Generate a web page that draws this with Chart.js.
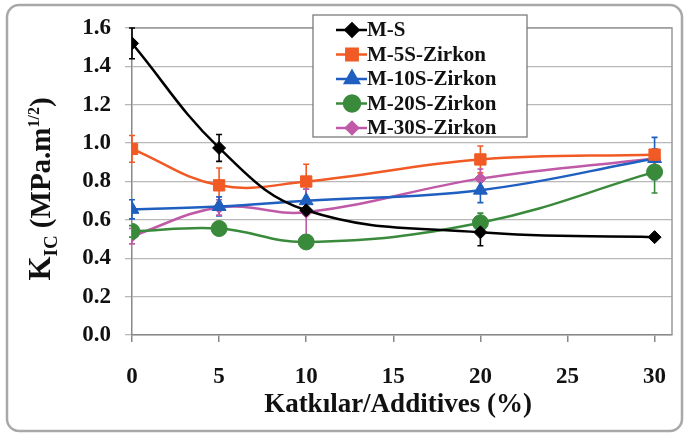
<!DOCTYPE html>
<html>
<head>
<meta charset="utf-8">
<script src="https://cdn.jsdelivr.net/npm/chart.js@4.4.1/dist/chart.umd.min.js"></script>
<style>
html, body { margin: 0; padding: 0; background: #fff; }
#wrap { width: 688px; height: 435px; }
</style>
</head>
<body>
<div id="wrap"><canvas id="grafico" width="688" height="435"></canvas></div>
<script>
// ----- dados -----
const katkilar = [0, 5, 10, 20, 30];
const xTicks = [0, 5, 10, 15, 20, 25, 30];
const yTicks = [0.0, 0.2, 0.4, 0.6, 0.8, 1.0, 1.2, 1.4, 1.6];

const nomes = ['M-S', 'M-5S-Zirkon', 'M-10S-Zirkon', 'M-20S-Zirkon', 'M-30S-Zirkon'];

const valMS   = [1.52, 0.975, 0.65, 0.535, 0.51];
const errMS   = [0.08, 0.07, 0.0, 0.07, 0.015];
const val5S   = [0.97, 0.78, 0.80, 0.915, 0.94];
const err5S   = [0.07, 0.09, 0.09, 0.07, 0.03];
const val10S  = [0.655, 0.67, 0.70, 0.755, 0.92];
const err10S  = [0.05, 0.05, 0.06, 0.065, 0.11];
const val20S  = [0.54, 0.555, 0.485, 0.585, 0.85];
const err20S  = [0.03, 0.02, 0.02, 0.05, 0.11];
const val30S  = [0.515, 0.665, 0.64, 0.815, 0.92];
const err30S  = [0.04, 0.04, 0.12, 0.05, 0.04];

const cores = ['#000000', '#f15a24', '#1f5fbf', '#3a8a3c', '#c05aa8'];
const marcadores = ['rectRot', 'rect', 'triangle', 'circle', 'rectRot'];
const raios = [6.5, 8, 8, 8, 6];

const valores = [valMS, val5S, val10S, val20S, val30S];
const erros = [errMS, err5S, err10S, err20S, err30S];

const fonte = '"Liberation Serif", "Times New Roman", serif';

// ----- datasets -----
const datasets = nomes.map((nome, i) => ({
  label: nome,
  data: katkilar.map((x, j) => ({ x: x, y: valores[i][j] })),
  borderColor: cores[i],
  backgroundColor: cores[i],
  borderWidth: 2.5,
  pointStyle: marcadores[i],
  pointRadius: raios[i],
  pointBorderWidth: 1,
  tension: 0.4,
  erro: erros[i]
}));

// fundo e moldura arredondada
const moldura = {
  id: 'moldura',
  beforeDraw(chart) {
    const ctx = chart.ctx;
    ctx.save();
    ctx.fillStyle = '#ffffff';
    ctx.fillRect(0, 0, chart.width, chart.height);
    ctx.strokeStyle = '#a8a8a8';
    ctx.lineWidth = 2.5;
    ctx.beginPath();
    ctx.roundRect(7, 5, 675, 426, 12);
    ctx.stroke();
    ctx.restore();
  }
};

// borda da área do gráfico + barras de erro
const barrasErro = {
  id: 'barrasErro',
  beforeDatasetsDraw(chart) {
    const ctx = chart.ctx;
    const a = chart.chartArea;
    ctx.save();
    ctx.strokeStyle = '#9a9a9a';
    ctx.lineWidth = 1.5;
    ctx.beginPath();
    ctx.moveTo(a.left, a.top);
    ctx.lineTo(a.right, a.top);
    ctx.lineTo(a.right, a.bottom);
    ctx.stroke();

    const xs = chart.scales.x, ys = chart.scales.y;
    chart.data.datasets.forEach(ds => {
      ctx.strokeStyle = ds.borderColor;
      ctx.lineWidth = 1.6;
      ds.data.forEach((p, j) => {
        const e = ds.erro[j];
        if (!e) return;
        const px = xs.getPixelForValue(p.x);
        const y1 = ys.getPixelForValue(p.y + e);
        const y2 = ys.getPixelForValue(p.y - e);
        ctx.beginPath();
        ctx.moveTo(px, y1); ctx.lineTo(px, y2);
        ctx.moveTo(px - 3, y1); ctx.lineTo(px + 3, y1);
        ctx.moveTo(px - 3, y2); ctx.lineTo(px + 3, y2);
        ctx.stroke();
      });
    });
    ctx.restore();
  }
};

// títulos dos eixos e legenda dentro do gráfico
const titulosLegenda = {
  id: 'titulosLegenda',
  afterDraw(chart) {
    const ctx = chart.ctx;
    ctx.save();
    ctx.fillStyle = '#111';

    // título eixo X
    ctx.font = 'bold 27px ' + fonte;
    ctx.textAlign = 'center';
    ctx.textBaseline = 'middle';
    ctx.fillText('Katkılar/Additives (%)', 398, 405);

    // título eixo Y: K_IC (MPa.m^1/2)
    ctx.translate(50, 189);
    ctx.rotate(-Math.PI / 2);
    const partes = [
      { t: 'K', f: 'bold 31px ', dy: 0 },
      { t: 'IC', f: 'bold 19px ', dy: 7 },
      { t: ' (MPa.m', f: 'bold 29px ', dy: 0 },
      { t: '1/2', f: 'bold 16px ', dy: -11 },
      { t: ')', f: 'bold 29px ', dy: 0 }
    ];
    let total = 0;
    partes.forEach(p => { ctx.font = p.f + fonte; total += ctx.measureText(p.t).width; });
    let x = -total / 2;
    ctx.textAlign = 'left';
    ctx.textBaseline = 'alphabetic';
    partes.forEach(p => {
      ctx.font = p.f + fonte;
      ctx.fillText(p.t, x, p.dy);
      x += ctx.measureText(p.t).width;
    });
    ctx.setTransform(1, 0, 0, 1, 0, 0);

    // legenda
    const lx = 313, ly = 15, lw = 214, lh = 122;
    ctx.fillStyle = '#ffffff';
    ctx.fillRect(lx, ly, lw, lh);
    ctx.strokeStyle = '#707070';
    ctx.lineWidth = 1.2;
    ctx.strokeRect(lx, ly, lw, lh);
    ctx.font = 'bold 21px ' + fonte;
    ctx.textAlign = 'left';
    ctx.textBaseline = 'middle';
    chart.data.datasets.forEach((ds, i) => {
      const yy = ly + 15 + i * 24.5;
      ctx.strokeStyle = ds.borderColor;
      ctx.lineWidth = 2.5;
      ctx.beginPath();
      ctx.moveTo(lx + 23, yy);
      ctx.lineTo(lx + 54, yy);
      ctx.stroke();
      Chart.helpers.drawPoint(ctx, {
        pointStyle: ds.pointStyle, radius: ds.pointRadius, borderWidth: 1, rotation: 0
      }, lx + 39, yy);
      ctx.fillStyle = ds.borderColor;
      ctx.fill();
      ctx.fillStyle = '#111';
      ctx.fillText(ds.label, lx + 54, yy + 1);
    });
    ctx.restore();
  }
};

new Chart(document.getElementById('grafico'), {
  type: 'line',
  data: { datasets: datasets },
  options: {
    responsive: false,
    animation: false,
    devicePixelRatio: 1,
    layout: { padding: { left: 0, top: 28, right: 16, bottom: 0 } },
    plugins: {
      legend: { display: false },
      tooltip: { enabled: false }
    },
    scales: {
      x: {
        type: 'linear',
        min: 0,
        max: 31,
        afterBuildTicks: s => { s.ticks = xTicks.map(v => ({ value: v })); },
        afterFit: s => { s.height = 100; },
        grid: { drawOnChartArea: false, drawTicks: true, tickLength: 7, color: '#888', lineWidth: 1.5 },
        border: { color: '#888', width: 1.5 },
        ticks: {
          color: '#111',
          padding: 21,
          maxRotation: 0,
          font: { family: fonte, size: 23, weight: 'bold' }
        }
      },
      y: {
        min: 0,
        max: 1.6,
        afterBuildTicks: s => { s.ticks = yTicks.map(v => ({ value: v })); },
        afterFit: s => { s.width = 132; },
        grid: { color: '#b8b8b8', lineWidth: 1.3, tickLength: 7 },
        border: { color: '#888', width: 1.5 },
        ticks: {
          color: '#111',
          padding: 14,
          callback: v => Number(v).toFixed(1),
          font: { family: fonte, size: 23, weight: 'bold' }
        }
      }
    }
  },
  plugins: [moldura, barrasErro, titulosLegenda]
});
</script>
</body>
</html>
